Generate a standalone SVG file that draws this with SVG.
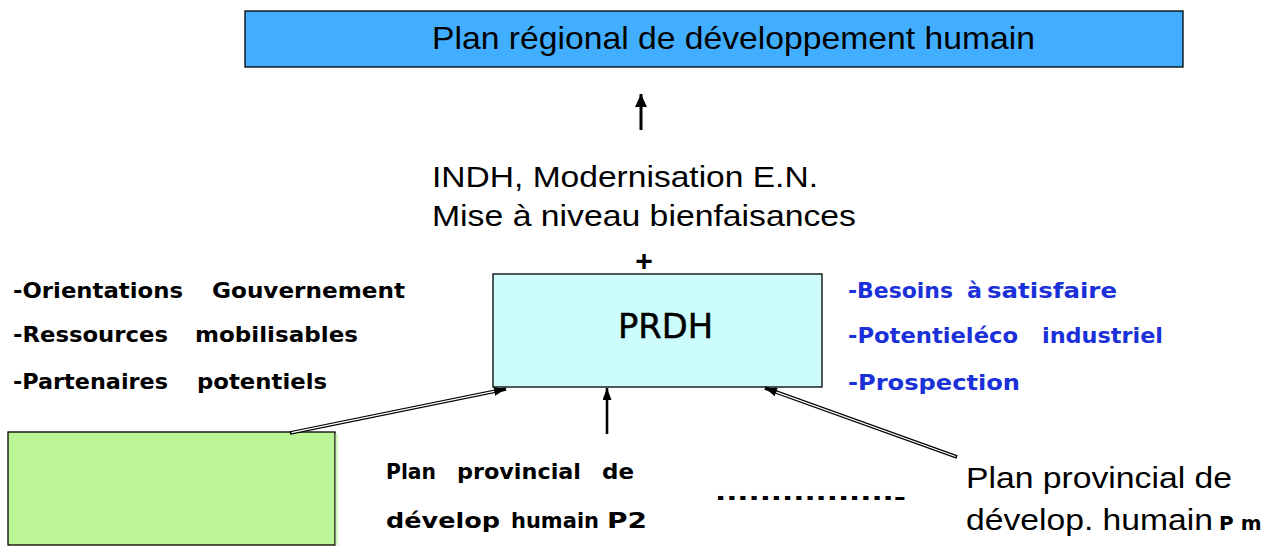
<svg xmlns="http://www.w3.org/2000/svg" width="1274" height="546" viewBox="0 0 1274 546">
<style>
.ar{font-family:"Liberation Sans",Arial,sans-serif;fill:#000}
.bd{font-family:"DejaVu Sans",Verdana,sans-serif;font-weight:bold;font-size:22px;fill:#000}
.bm{font-size:22px}
.bl{fill:#1a30d8}
.box{stroke:#000;stroke-width:1.3}
.dbl{stroke:#000;stroke-width:3.6;fill:none}
.dblw{stroke:#fff;stroke-width:1.3;fill:none}
</style>
<defs>
<marker id="ah" viewBox="0 0 12 9" refX="12" refY="4.5" markerWidth="12" markerHeight="9" orient="auto" markerUnits="userSpaceOnUse"><path d="M0,0 L12,4.5 L0,9 z" fill="#000"/></marker>
<marker id="ahTop" viewBox="0 0 13 12" refX="13" refY="6" markerWidth="13" markerHeight="12" orient="auto" markerUnits="userSpaceOnUse"><path d="M0,0 L13,6 L0,12 z" fill="#000"/></marker>
</defs>
<rect width="1274" height="546" fill="#fff"/>

<g id="plan-regional">
<rect class="box" x="245" y="11" width="938" height="56" fill="#42aeff"/>
<text class="ar" x="432" y="49" font-size="31.5" textLength="603" lengthAdjust="spacingAndGlyphs">Plan régional de développement humain</text>
</g>

<g id="apports">
<text class="ar" x="432" y="187" font-size="30" textLength="386" lengthAdjust="spacingAndGlyphs">INDH, Modernisation E.N.</text>
<text class="ar" x="432" y="226" font-size="30" textLength="424" lengthAdjust="spacingAndGlyphs">Mise à niveau bienfaisances</text>
<text class="ar" x="644" y="271" font-size="30" font-weight="bold" text-anchor="middle">+</text>
</g>

<g id="prdh">
<rect class="box" x="493" y="274" width="329" height="113" fill="#ccfcfc"/>
<text x="618" y="338" font-family="'DejaVu Sans',Verdana,sans-serif" font-size="34" textLength="95" lengthAdjust="spacingAndGlyphs" fill="#000" stroke="#000" stroke-width="0.5">PRDH</text>
</g>

<g id="contraintes">
<text class="bd" y="298"><tspan x="13" textLength="170" lengthAdjust="spacingAndGlyphs">-Orientations</tspan><tspan x="212" textLength="193" lengthAdjust="spacingAndGlyphs">Gouvernement</tspan></text>
<text class="bd" y="342"><tspan x="13" textLength="155" lengthAdjust="spacingAndGlyphs">-Ressources</tspan><tspan x="195" textLength="163" lengthAdjust="spacingAndGlyphs">mobilisables</tspan></text>
<text class="bd" y="389"><tspan x="13" textLength="155" lengthAdjust="spacingAndGlyphs">-Partenaires</tspan><tspan x="197" textLength="130" lengthAdjust="spacingAndGlyphs">potentiels</tspan></text>
</g>

<g id="besoins">
<text class="bd bl" y="298"><tspan x="848" textLength="105" lengthAdjust="spacingAndGlyphs">-Besoins</tspan><tspan x="967" textLength="15" lengthAdjust="spacingAndGlyphs">à</tspan><tspan x="987" textLength="130" lengthAdjust="spacingAndGlyphs">satisfaire</tspan></text>
<text class="bd bl" y="343"><tspan x="848" textLength="170" lengthAdjust="spacingAndGlyphs">-Potentieléco</tspan><tspan x="1042" textLength="121" lengthAdjust="spacingAndGlyphs">industriel</tspan></text>
<text class="bd bl" y="390"><tspan x="848" textLength="172" lengthAdjust="spacingAndGlyphs">-Prospection</tspan></text>
</g>

<g id="plan-p1">
<rect class="box" x="8" y="432" width="327" height="113" fill="#bcf598"/>
<rect x="335.7" y="434" width="2.5" height="111" fill="#d6f8c0"/>
</g>

<g id="plan-p2">
<text class="bd bm" y="479"><tspan x="386" textLength="50" lengthAdjust="spacingAndGlyphs">Plan</tspan><tspan x="457" textLength="124" lengthAdjust="spacingAndGlyphs">provincial</tspan><tspan x="602" textLength="32" lengthAdjust="spacingAndGlyphs">de</tspan></text>
<text class="bd bm" y="528"><tspan x="386" textLength="114" lengthAdjust="spacingAndGlyphs">dévelop</tspan><tspan x="511" textLength="88" lengthAdjust="spacingAndGlyphs">humain</tspan><tspan x="607" textLength="40" lengthAdjust="spacingAndGlyphs">P2</tspan></text>
</g>

<g id="ellipsis">
<text class="bd" x="715" y="500" font-size="21" textLength="191" lengthAdjust="spacingAndGlyphs">................<tspan dy="4.5">-</tspan></text>
</g>

<g id="plan-pm">
<text class="ar" x="966" y="488" font-size="29" textLength="266" lengthAdjust="spacingAndGlyphs">Plan provincial de</text>
<text class="ar" y="530" font-size="29"><tspan x="966" textLength="247" lengthAdjust="spacingAndGlyphs">dévelop. humain</tspan><tspan x="1219" font-family="'DejaVu Sans',Verdana,sans-serif" font-weight="bold" font-size="20" letter-spacing="7">Pm</tspan></text>
</g>

<g id="connectors">
<line x1="641" y1="130" x2="641" y2="94" stroke="#000" stroke-width="3" marker-end="url(#ahTop)"/>
<line class="dbl" x1="290" y1="433" x2="506" y2="389" marker-end="url(#ah)"/>
<line class="dblw" x1="291.5" y1="432.7" x2="494.2" y2="391.4"/>
<line x1="607" y1="434" x2="607" y2="388" stroke="#000" stroke-width="2.6" marker-end="url(#ah)"/>
<line class="dbl" x1="957" y1="457" x2="765" y2="388" marker-end="url(#ah)"/>
<line class="dblw" x1="955.6" y1="456.5" x2="776.3" y2="392.1"/>
</g>
</svg>
